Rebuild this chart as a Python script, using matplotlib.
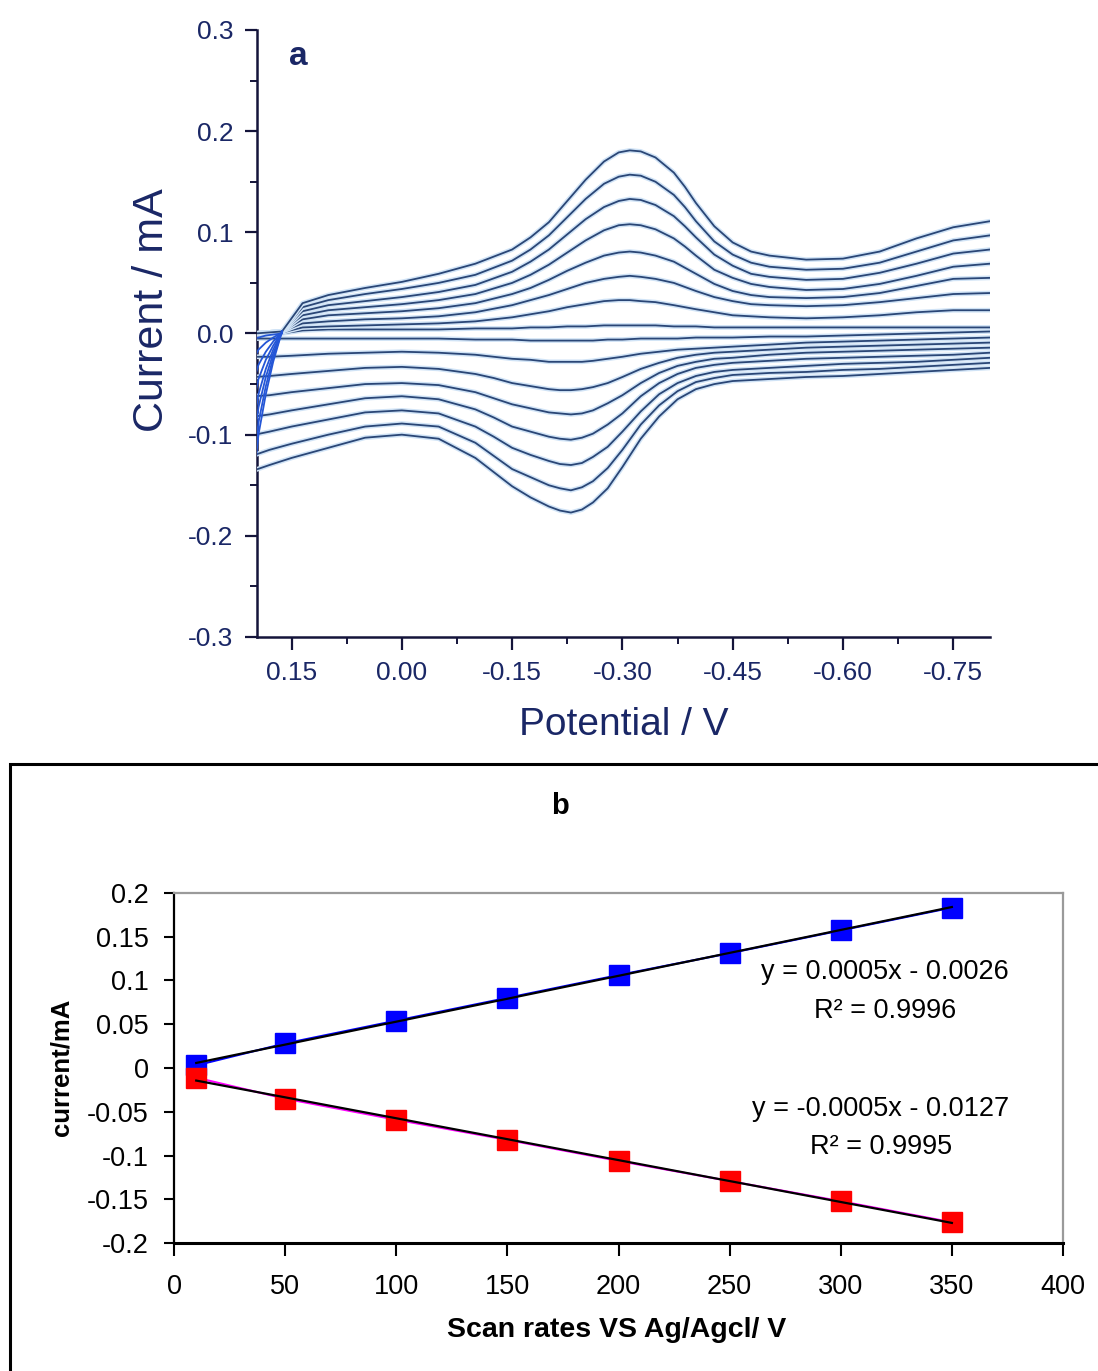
import matplotlib.pyplot as plt
import matplotlib.patheffects as pe
from matplotlib.patches import Rectangle
from matplotlib.ticker import MultipleLocator, FuncFormatter
import numpy as np

plt.rcParams['font.family'] = ['Liberation Sans', 'DejaVu Sans']

# ---- (a) cyclic voltammograms, one row per scan rate (mV/s) ----
cv_rates = [10, 50, 100, 150, 200, 250, 300, 350]

# forward sweep, +0.2 V -> -0.8 V
e_fwd = [0.20, 0.163, 0.135, 0.10, 0.05, 0.0, -0.05, -0.10,
         -0.15, -0.175, -0.20, -0.225, -0.25, -0.275, -0.295, -0.31, -0.325, -0.345,
         -0.37, -0.385, -0.40, -0.425, -0.45, -0.475, -0.50,
         -0.55, -0.60, -0.65, -0.70, -0.75, -0.80]
i_fwd = [
    [0.0, 0.0, 0.003, 0.004, 0.004, 0.004, 0.004, 0.005,
     0.005, 0.006, 0.006, 0.007, 0.007, 0.008, 0.008, 0.008, 0.008, 0.008,
     0.007, 0.007, 0.007, 0.006, 0.006, 0.006, 0.006,
     0.006, 0.006, 0.006, 0.006, 0.006, 0.006],
    [0.0, 0.001, 0.006, 0.007, 0.008, 0.009, 0.010, 0.012,
     0.016, 0.019, 0.022, 0.026, 0.029, 0.032, 0.033, 0.033, 0.032, 0.031,
     0.028, 0.026, 0.024, 0.021, 0.018, 0.017, 0.016,
     0.015, 0.016, 0.018, 0.021, 0.023, 0.023],
    [0.0, 0.002, 0.010, 0.012, 0.014, 0.015, 0.017, 0.021,
     0.028, 0.033, 0.038, 0.044, 0.050, 0.054, 0.056, 0.057, 0.056, 0.054,
     0.050, 0.046, 0.042, 0.036, 0.032, 0.029, 0.028,
     0.027, 0.028, 0.031, 0.035, 0.039, 0.040],
    [0.0, 0.002, 0.014, 0.018, 0.020, 0.022, 0.025, 0.030,
     0.039, 0.045, 0.053, 0.062, 0.070, 0.077, 0.080, 0.081, 0.080, 0.077,
     0.071, 0.065, 0.059, 0.049, 0.042, 0.038, 0.036,
     0.035, 0.036, 0.040, 0.047, 0.054, 0.055],
    [0.0, 0.002, 0.018, 0.023, 0.026, 0.029, 0.033, 0.039,
     0.050, 0.058, 0.068, 0.080, 0.092, 0.102, 0.107, 0.108, 0.107, 0.103,
     0.094, 0.086, 0.077, 0.063, 0.055, 0.049, 0.046,
     0.043, 0.044, 0.049, 0.057, 0.066, 0.069],
    [0.0, 0.002, 0.022, 0.028, 0.032, 0.036, 0.041, 0.048,
     0.061, 0.071, 0.083, 0.098, 0.113, 0.125, 0.131, 0.133, 0.132, 0.127,
     0.116, 0.106, 0.095, 0.078, 0.067, 0.059, 0.056,
     0.053, 0.054, 0.060, 0.069, 0.079, 0.083],
    [0.0, 0.002, 0.026, 0.033, 0.039, 0.044, 0.050, 0.058,
     0.072, 0.083, 0.097, 0.115, 0.133, 0.148, 0.155, 0.157, 0.156, 0.150,
     0.137, 0.125, 0.111, 0.091, 0.078, 0.070, 0.066,
     0.063, 0.064, 0.070, 0.081, 0.092, 0.097],
    [0.0, 0.002, 0.030, 0.038, 0.045, 0.051, 0.059, 0.069,
     0.083, 0.095, 0.110, 0.131, 0.152, 0.170, 0.179, 0.181, 0.180, 0.174,
     0.159, 0.145, 0.129, 0.106, 0.090, 0.081, 0.077,
     0.073, 0.074, 0.081, 0.094, 0.105, 0.111],
]

# reverse sweep, -0.8 V -> +0.2 V
e_rev = [-0.80, -0.75, -0.70, -0.65, -0.60, -0.55, -0.50, -0.45,
         -0.425, -0.40, -0.375, -0.35, -0.325, -0.30,
         -0.28, -0.26, -0.245, -0.23, -0.215, -0.20,
         -0.175, -0.15, -0.125, -0.10,
         -0.05, 0.0, 0.05, 0.10, 0.15, 0.18, 0.20]
i_rev = [
    [0.002, 0.001, 0.0, -0.001, -0.002, -0.003, -0.003, -0.004,
     -0.004, -0.004, -0.005, -0.005, -0.005, -0.006,
     -0.006, -0.007, -0.007, -0.007, -0.007, -0.007,
     -0.007, -0.006, -0.006, -0.006,
     -0.005, -0.005, -0.005, -0.005, -0.005, -0.005, -0.005],
    [-0.004, -0.005, -0.006, -0.007, -0.008, -0.009, -0.011, -0.013,
     -0.014, -0.015, -0.016, -0.018, -0.020, -0.023,
     -0.025, -0.027, -0.028, -0.028, -0.028, -0.028,
     -0.026, -0.025, -0.023, -0.021,
     -0.019, -0.018, -0.019, -0.020, -0.022, -0.023, -0.023],
    [-0.009, -0.010, -0.011, -0.012, -0.013, -0.014, -0.016, -0.018,
     -0.019, -0.021, -0.024, -0.029, -0.035, -0.043,
     -0.049, -0.053, -0.055, -0.056, -0.056, -0.055,
     -0.052, -0.049, -0.044, -0.040,
     -0.035, -0.033, -0.034, -0.037, -0.040, -0.042, -0.043],
    [-0.014, -0.015, -0.016, -0.017, -0.018, -0.019, -0.021, -0.024,
     -0.025, -0.028, -0.032, -0.039, -0.049, -0.061,
     -0.069, -0.076, -0.079, -0.080, -0.079, -0.078,
     -0.074, -0.070, -0.064, -0.058,
     -0.051, -0.049, -0.050, -0.054, -0.058, -0.061, -0.062],
    [-0.019, -0.021, -0.022, -0.023, -0.024, -0.025, -0.027, -0.029,
     -0.031, -0.034, -0.040, -0.049, -0.062, -0.079,
     -0.090, -0.099, -0.103, -0.105, -0.104, -0.102,
     -0.097, -0.092, -0.083, -0.075,
     -0.065, -0.062, -0.064, -0.070, -0.076, -0.080, -0.082],
    [-0.024, -0.026, -0.028, -0.029, -0.030, -0.032, -0.034, -0.036,
     -0.038, -0.042, -0.049, -0.060, -0.077, -0.097,
     -0.112, -0.122, -0.128, -0.130, -0.129, -0.126,
     -0.120, -0.113, -0.102, -0.092,
     -0.079, -0.076, -0.078, -0.085, -0.092, -0.097, -0.100],
    [-0.029, -0.031, -0.033, -0.035, -0.036, -0.038, -0.039, -0.041,
     -0.044, -0.048, -0.057, -0.071, -0.090, -0.115,
     -0.133, -0.146, -0.152, -0.155, -0.153, -0.150,
     -0.142, -0.134, -0.121, -0.108,
     -0.092, -0.089, -0.092, -0.100, -0.109, -0.115, -0.120],
    [-0.034, -0.036, -0.038, -0.040, -0.042, -0.043, -0.045, -0.047,
     -0.050, -0.055, -0.065, -0.082, -0.104, -0.132,
     -0.153, -0.167, -0.174, -0.177, -0.175, -0.171,
     -0.162, -0.151, -0.137, -0.123,
     -0.104, -0.100, -0.103, -0.113, -0.123, -0.130, -0.135],
]

# switching back at the anodic limit
e_turn = [0.20, 0.195, 0.185, 0.175, 0.163]
i_turn = [
    [-0.005, -0.004, -0.002, -0.001, 0.0],
    [-0.023, -0.016, -0.009, -0.004, 0.001],
    [-0.043, -0.031, -0.018, -0.008, 0.002],
    [-0.062, -0.045, -0.026, -0.012, 0.002],
    [-0.082, -0.060, -0.035, -0.016, 0.002],
    [-0.100, -0.073, -0.043, -0.020, 0.002],
    [-0.120, -0.088, -0.052, -0.024, 0.002],
    [-0.135, -0.100, -0.060, -0.028, 0.002],
]

# ---- (b) peak currents vs scan rate ----
scan_rates = [10, 50, 100, 150, 200, 250, 300, 350]
ipa = [0.003, 0.028, 0.054, 0.080, 0.106, 0.131, 0.157, 0.183]
ipc = [-0.011, -0.035, -0.059, -0.082, -0.106, -0.129, -0.152, -0.176]
eq_anodic = ['y = 0.0005x - 0.0026', 'R\u00b2 = 0.9996']
eq_cathodic = ['y = -0.0005x - 0.0127', 'R\u00b2 = 0.9995']

W, H = 1098, 1371
fig = plt.figure(figsize=(W / 100, H / 100), dpi=100)

navy = '#1a2766'
line_c = '#2a4676'
halo = [pe.Stroke(linewidth=3.4, foreground='#d0e3f6'), pe.Normal()]

ax = fig.add_axes([257 / W, 1 - 637 / H, (990 - 257) / W, (637 - 30) / H])
for k in range(len(cv_rates)):
    ax.plot(e_fwd, i_fwd[k], color=line_c, lw=1.3, path_effects=halo, zorder=3)
    ax.plot(e_rev, i_rev[k], color=line_c, lw=1.3, path_effects=halo, zorder=3)
    ax.plot(e_turn, i_turn[k], color='#2456d6', lw=1.3, zorder=4)

ax.set_xlim(0.197, -0.80)
ax.set_ylim(-0.3, 0.3)
ax.xaxis.set_major_locator(MultipleLocator(0.15))
ax.xaxis.set_minor_locator(MultipleLocator(0.075))
ax.yaxis.set_major_locator(MultipleLocator(0.1))
ax.yaxis.set_minor_locator(MultipleLocator(0.05))
ax.xaxis.set_major_formatter(FuncFormatter(lambda v, p: f'{v + 0.0:.2f}'.replace('-0.00', '0.00')))
ax.yaxis.set_major_formatter(FuncFormatter(lambda v, p: f'{v + 0.0:.1f}'.replace('-0.0', '0.0')))
for s in ['top', 'right']:
    ax.spines[s].set_visible(False)
for s in ['left', 'bottom']:
    ax.spines[s].set_linewidth(1.8)
    ax.spines[s].set_color('#14143a')
ax.tick_params(which='major', direction='out', length=9, width=1.6, color='#14143a',
               labelsize=19, labelcolor=navy, pad=8)
ax.tick_params(which='minor', direction='out', length=5, width=1.4, color='#14143a')
ax.set_xlabel('Potential / V', fontsize=28, color=navy, va='center')
ax.xaxis.set_label_coords(0.5, -(725 - 637) / 607)
ax.set_ylabel('Current / mA', fontsize=31, color=navy, va='center', ha='center')
ax.yaxis.set_label_coords(-(257 - 152) / 733, (637 - 310) / 607)
ax.text((298 - 257) / 733, (637 - 57) / 607, 'a', transform=ax.transAxes, fontsize=24,
        fontweight='bold', color=navy, ha='center', va='center')

# frame around panel (b)
fig.patches.append(Rectangle((10 / W, -0.05), 1.2, 1 - 764 / H + 0.05, transform=fig.transFigure,
                             fill=False, edgecolor='black', linewidth=2.2))
fig.text(560 / W, 1 - 806 / H, 'b', fontsize=21, fontweight='bold', ha='center', va='center')

bx = fig.add_axes([174 / W, 1 - 1243.3 / H, (1063 - 174) / W, (1243.3 - 892.7) / H])
bx.plot(scan_rates, ipa, color='#0000ff', lw=1.5, marker='s', ms=14.5, mec='#0000ff', zorder=3)
bx.plot(scan_rates, ipc, color='#ff00ff', lw=1.5, zorder=3)
bx.plot(scan_rates, ipc, ls='none', marker='s', ms=14.5, color='#ff0000', zorder=3)

xs = np.array([scan_rates[0], scan_rates[-1]])
for ys in (ipa, ipc):
    m, c = np.polyfit(scan_rates, ys, 1)
    bx.plot(xs, m * xs + c, color='black', lw=1.6, zorder=4)

bx.text(320, 0.109, eq_anodic[0], fontsize=19.5, ha='center', va='center')
bx.text(320, 0.065, eq_anodic[1], fontsize=19.5, ha='center', va='center')
bx.text(318, -0.0468, eq_cathodic[0], fontsize=19.5, ha='center', va='center')
bx.text(318, -0.0902, eq_cathodic[1], fontsize=19.5, ha='center', va='center')

bx.set_xlim(0, 400)
bx.set_ylim(-0.2, 0.2)
bx.set_xticks(range(0, 401, 50))
yt = [-0.2, -0.15, -0.1, -0.05, 0, 0.05, 0.1, 0.15, 0.2]
bx.set_yticks(yt)
bx.set_yticklabels([f'{v:g}' for v in yt])
bx.spines['top'].set_color('#9a9a9a')
bx.spines['right'].set_color('#9a9a9a')
bx.spines['top'].set_linewidth(1.6)
bx.spines['right'].set_linewidth(1.6)
bx.spines['left'].set_linewidth(1.6)
bx.spines['bottom'].set_linewidth(2.2)
bx.tick_params(axis='y', direction='out', length=7, width=1.5, labelsize=19.5, pad=11)
bx.tick_params(axis='x', direction='out', length=9, width=1.5, labelsize=19.5, pad=13)
bx.set_xlabel('Scan rates VS Ag/Agcl/ V', fontsize=20.5, fontweight='bold', va='center')
bx.xaxis.set_label_coords(0.498, -(1330 - 1243.3) / 350.6)
bx.set_ylabel('current/mA', fontsize=18.5, fontweight='bold', va='center', ha='center')
bx.yaxis.set_label_coords(-(174 - 62) / 889, 0.503)

fig.savefig('out.png', dpi=100)
